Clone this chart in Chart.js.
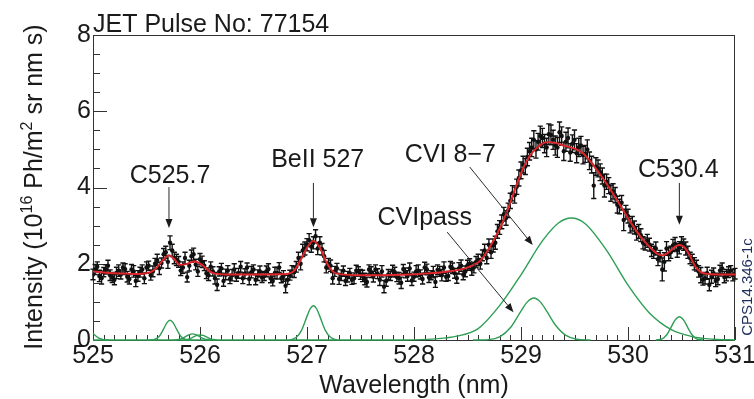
<!DOCTYPE html>
<html>
<head>
<meta charset="utf-8">
<script src="https://cdn.jsdelivr.net/npm/chart.js@4.4.0/dist/chart.umd.min.js"></script>
<style>
  html, body { margin: 0; padding: 0; background: #fff; }
</style>
</head>
<body>
<canvas id="spectrum" width="754" height="399"></canvas>
<script>
// JET pulse 77154 - CVI 8-7 region, measured spectrum + fit components

const FONT = "'Liberation Sans', Arial, sans-serif";

// --- measured points (nm, 1e16 Ph/m2 sr nm s) ---
const wavelength = [
  525.00, 525.04, 525.08, 525.12, 525.16, 525.20, 525.24, 525.28, 525.32, 525.36,
  525.40, 525.44, 525.48, 525.52, 525.56, 525.60, 525.64, 525.68, 525.72, 525.76,
  525.80, 525.84, 525.88, 525.92, 525.96, 526.00, 526.04, 526.08, 526.12, 526.16,
  526.20, 526.24, 526.28, 526.32, 526.36, 526.40, 526.44, 526.48, 526.52, 526.56,
  526.60, 526.64, 526.68, 526.72, 526.76, 526.80, 526.84, 526.88, 526.92, 526.96,
  527.00, 527.04, 527.08, 527.12, 527.16, 527.20, 527.24, 527.28, 527.32, 527.36,
  527.40, 527.44, 527.48, 527.52, 527.56, 527.60, 527.64, 527.68, 527.72, 527.76,
  527.80, 527.84, 527.88, 527.92, 527.96, 528.00, 528.04, 528.08, 528.12, 528.16,
  528.20, 528.24, 528.28, 528.32, 528.36, 528.40, 528.44, 528.48, 528.52, 528.56,
  528.60, 528.64, 528.68, 528.72, 528.76, 528.80, 528.84, 528.88, 528.92, 528.96,
  529.00, 529.04, 529.08, 529.12, 529.16, 529.20, 529.24, 529.28, 529.32, 529.36,
  529.40, 529.44, 529.48, 529.52, 529.56, 529.60, 529.64, 529.68, 529.72, 529.76,
  529.80, 529.84, 529.88, 529.92, 529.96, 530.00, 530.04, 530.08, 530.12, 530.16,
  530.20, 530.24, 530.28, 530.32, 530.36, 530.40, 530.44, 530.48, 530.52, 530.56,
  530.60, 530.64, 530.68, 530.72, 530.76, 530.80, 530.84, 530.88, 530.92, 530.96,
  531.00
];
const intensity = [
  1.72, 1.92, 1.62, 1.85, 1.70, 1.58, 1.82, 1.90, 1.66, 1.85,
  1.55, 1.78, 1.62, 1.95, 1.80, 2.10, 2.02, 2.30, 2.55, 2.15,
  2.05, 1.90, 1.65, 2.20, 1.98, 2.12, 1.95, 1.70, 1.80, 1.45,
  1.88, 1.72, 1.60, 1.85, 1.75, 1.62, 1.90, 1.78, 1.58, 1.80,
  1.68, 1.86, 1.55, 1.75, 1.62, 1.42, 1.70, 1.78, 2.15, 2.35,
  2.50, 2.45, 2.72, 2.55, 2.20, 2.00, 1.62, 1.88, 1.70, 1.55,
  1.75, 1.62, 1.80, 1.68, 1.52, 1.78, 1.85, 1.58, 1.40, 1.72,
  1.82, 1.65, 1.50, 1.76, 1.88, 1.66, 1.82, 1.60, 1.85, 1.70,
  1.52, 1.80, 1.90, 1.68, 1.88, 1.62, 1.95, 1.80, 2.00, 1.90,
  2.10, 2.22, 2.15, 2.30, 2.55, 2.95, 3.30, 3.40, 3.85, 4.02,
  4.45, 4.55, 4.95, 5.25, 5.20, 5.30, 5.05, 5.38, 5.10, 5.45,
  4.95, 5.30, 5.15, 4.90, 5.10, 4.88, 4.70, 4.05, 4.50, 4.30,
  4.15, 3.85, 3.80, 3.50, 3.15, 3.25, 3.05, 2.80, 2.75, 2.52,
  2.50, 2.30, 2.12, 1.85, 2.40, 2.30, 2.52, 2.42, 2.50, 2.30,
  2.10, 1.95, 1.70, 1.62, 1.45, 1.75, 1.60, 1.88, 1.70, 1.82,
  1.74
];
const errBar = [
  .14, .13, .15, .12, .14, .13, .15, .12, .14, .13,
  .15, .13, .14, .12, .14, .15, .13, .16, .18, .15,
  .14, .15, .13, .16, .14, .15, .13, .14, .12, .15,
  .13, .14, .12, .15, .13, .14, .12, .15, .13, .14,
  .12, .14, .13, .15, .12, .18, .13, .14, .15, .16,
  .16, .15, .17, .16, .15, .14, .15, .13, .14, .12,
  .13, .14, .12, .15, .13, .14, .12, .15, .16, .13,
  .14, .12, .15, .13, .14, .12, .15, .13, .14, .12,
  .14, .13, .15, .12, .14, .13, .15, .14, .13, .14,
  .15, .14, .15, .16, .17, .18, .18, .19, .20, .20,
  .22, .21, .23, .24, .22, .25, .24, .26, .25, .27,
  .24, .26, .23, .25, .24, .22, .23, .34, .22, .21,
  .20, .21, .20, .19, .28, .18, .19, .18, .17, .16,
  .17, .16, .17, .30, .18, .16, .17, .16, .15, .16,
  .15, .14, .20, .15, .16, .14, .15, .14, .15, .13,
  .14
];
// in-between channels
const wavelengthB = [
  525.02, 525.06, 525.10, 525.14, 525.18, 525.22, 525.26, 525.30, 525.34, 525.38,
  525.42, 525.46, 525.50, 525.54, 525.58, 525.62, 525.66, 525.70, 525.74, 525.78,
  525.82, 525.86, 525.90, 525.94, 525.98, 526.02, 526.06, 526.10, 526.14, 526.18,
  526.22, 526.26, 526.30, 526.34, 526.38, 526.42, 526.46, 526.50, 526.54, 526.58,
  526.62, 526.66, 526.70, 526.74, 526.78, 526.82, 526.86, 526.90, 526.94, 526.98,
  527.02, 527.06, 527.10, 527.14, 527.18, 527.22, 527.26, 527.30, 527.34, 527.38,
  527.42, 527.46, 527.50, 527.54, 527.58, 527.62, 527.66, 527.70, 527.74, 527.78,
  527.82, 527.86, 527.90, 527.94, 527.98, 528.02, 528.06, 528.10, 528.14, 528.18,
  528.22, 528.26, 528.30, 528.34, 528.38, 528.42, 528.46, 528.50, 528.54, 528.58,
  528.62, 528.66, 528.70, 528.74, 528.78, 528.82, 528.86, 528.90, 528.94, 528.98,
  529.02, 529.06, 529.10, 529.14, 529.18, 529.22, 529.26, 529.30, 529.34, 529.38,
  529.42, 529.46, 529.50, 529.54, 529.58, 529.62, 529.66, 529.70, 529.74, 529.78,
  529.82, 529.86, 529.90, 529.94, 529.98, 530.02, 530.06, 530.10, 530.14, 530.18,
  530.22, 530.26, 530.30, 530.34, 530.38, 530.42, 530.46, 530.50, 530.54, 530.58,
  530.62, 530.66, 530.70, 530.74, 530.78, 530.82, 530.86, 530.90, 530.94, 530.98
];
const intensityB = [
  1.85, 1.68, 1.78, 1.95, 1.64, 1.76, 1.72, 1.86, 1.60, 1.80,
  1.68, 1.85, 1.90, 1.70, 2.00, 1.88, 2.25, 2.05, 2.35, 2.10,
  1.82, 2.15, 1.95, 2.25, 1.80, 2.05, 1.75, 1.92, 1.62, 1.80,
  1.55, 1.82, 1.70, 1.66, 1.92, 1.74, 1.60, 1.85, 1.70, 1.64,
  1.80, 1.62, 1.76, 1.90, 1.68, 1.58, 1.80, 1.92, 2.00, 2.40,
  2.62, 2.55, 2.40, 2.38, 1.90, 1.95, 1.80, 1.60, 1.82, 1.66,
  1.58, 1.82, 1.72, 1.60, 1.85, 1.66, 1.74, 1.80, 1.55, 1.68,
  1.78, 1.62, 1.86, 1.68, 1.56, 1.80, 1.72, 1.90, 1.64, 1.78,
  1.84, 1.70, 1.66, 1.92, 1.75, 1.88, 1.72, 1.96, 1.85, 2.05,
  2.00, 2.35, 2.50, 2.48, 2.85, 3.10, 3.20, 3.65, 3.80, 4.25,
  4.60, 4.80, 5.05, 5.00, 5.35, 5.15, 5.40, 5.25, 5.05, 5.35,
  5.20, 4.92, 5.25, 5.05, 4.85, 5.00, 4.60, 4.55, 4.40, 4.05,
  4.05, 3.90, 3.55, 3.60, 3.35, 3.00, 2.95, 2.85, 2.55, 2.60,
  2.35, 2.40, 2.20, 2.05, 2.25, 2.48, 2.35, 2.55, 2.40, 2.15,
  2.00, 1.80, 1.58, 1.75, 1.66, 1.55, 1.82, 1.65, 1.78, 1.70
];
const errBarB = [
  .13, .15, .12, .14, .13, .15, .12, .14, .13, .15,
  .14, .12, .15, .13, .14, .16, .15, .17, .16, .15,
  .13, .15, .14, .16, .13, .15, .14, .13, .15, .12,
  .14, .13, .15, .12, .14, .13, .15, .12, .14, .13,
  .14, .12, .15, .13, .14, .12, .15, .14, .16, .17,
  .17, .16, .16, .15, .14, .15, .13, .14, .12, .14,
  .12, .14, .13, .15, .12, .14, .13, .15, .14, .12,
  .13, .15, .12, .14, .13, .15, .12, .14, .13, .15,
  .13, .15, .12, .14, .13, .15, .14, .13, .15, .14,
  .14, .16, .15, .17, .18, .18, .19, .20, .21, .21,
  .22, .23, .24, .23, .26, .24, .27, .25, .26, .24,
  .25, .23, .26, .24, .23, .25, .22, .23, .22, .30,
  .21, .20, .22, .19, .18, .19, .17, .18, .16, .17,
  .16, .17, .15, .24, .17, .16, .18, .16, .17, .15,
  .16, .15, .14, .16, .17, .15, .14, .15, .14, .15
];

// --- total fit (red) ---
const fitX = [525.00, 525.10, 525.20, 525.30, 525.40, 525.50, 525.58, 525.64, 525.71, 525.76,
  525.81, 525.87, 525.95, 526.02, 526.08, 526.14, 526.25, 526.40, 526.60, 526.80,
  526.88, 526.94, 527.00, 527.06, 527.12, 527.18, 527.24, 527.32, 527.50, 527.70,
  527.90, 528.10, 528.30, 528.45, 528.55, 528.62, 528.70, 528.77, 528.83, 528.90,
  528.96, 529.02, 529.08, 529.14, 529.20, 529.25, 529.32, 529.40, 529.50, 529.58,
  529.65, 529.72, 529.80, 529.88, 529.96, 530.04, 530.12, 530.20, 530.27, 530.32,
  530.38, 530.44, 530.48, 530.53, 530.58, 530.63, 530.68, 530.75, 530.85, 531.00];
const fitY = [1.80, 1.77, 1.75, 1.74, 1.73, 1.75, 1.85, 2.05, 2.22, 2.12,
  1.97, 1.99, 2.06, 1.97, 1.82, 1.74, 1.72, 1.72, 1.72, 1.73,
  1.82, 2.10, 2.42, 2.60, 2.42, 2.05, 1.80, 1.72, 1.70, 1.70,
  1.71, 1.74, 1.79, 1.86, 1.96, 2.08, 2.40, 2.75, 3.10, 3.60,
  4.08, 4.50, 4.82, 5.02, 5.15, 5.19, 5.17, 5.10, 5.02, 4.90,
  4.68, 4.42, 4.10, 3.75, 3.38, 3.02, 2.70, 2.45, 2.27, 2.22,
  2.30, 2.45, 2.49, 2.42, 2.20, 1.92, 1.78, 1.73, 1.72, 1.72];

// --- fitted line components (green) ---
const edgeX = [525.00, 525.03, 525.06, 525.10, 525.15];
const edgeY = [0.17, 0.10, 0.04, 0.01, 0];
const c5257X = [525.52, 525.58, 525.62, 525.66, 525.69, 525.72, 525.75, 525.78, 525.82, 525.86, 525.92];
const c5257Y = [0, 0.02, 0.10, 0.29, 0.45, 0.52, 0.45, 0.29, 0.10, 0.02, 0];
const c5259X = [525.76, 525.82, 525.86, 525.90, 525.93, 525.96, 526.00, 526.04, 526.10];
const c5259Y = [0, 0.03, 0.08, 0.14, 0.16, 0.14, 0.08, 0.03, 0];
const c5260X = [525.84, 525.90, 525.94, 525.97, 526.00, 526.03, 526.06, 526.10, 526.16];
const c5260Y = [0, 0.03, 0.08, 0.12, 0.13, 0.12, 0.08, 0.03, 0];
const be527X = [526.84, 526.90, 526.95, 527.00, 527.03, 527.06, 527.09, 527.12, 527.17, 527.22, 527.28];
const be527Y = [0, 0.07, 0.26, 0.62, 0.82, 0.90, 0.82, 0.62, 0.26, 0.07, 0];
const cviPassX = [528.55, 528.70, 528.80, 528.90, 529.00, 529.06, 529.12, 529.18, 529.24, 529.32, 529.42, 529.52, 529.65];
const cviPassY = [0, 0.01, 0.08, 0.32, 0.76, 1.00, 1.10, 1.00, 0.76, 0.40, 0.12, 0.02, 0];
const cvi87X = [525.00, 527.90, 528.20, 528.40, 528.60, 528.80, 529.00, 529.20, 529.35, 529.47,
  529.60, 529.80, 530.00, 530.20, 530.40, 530.60, 530.80, 531.00];
const cvi87Y = [0, 0, 0.03, 0.10, 0.30, 0.90, 1.71, 2.60, 3.07, 3.20,
  3.05, 2.35, 1.44, 0.71, 0.28, 0.09, 0.02, 0];
const c5304X = [530.26, 530.32, 530.36, 530.40, 530.44, 530.48, 530.52, 530.56, 530.60, 530.64, 530.70];
const c5304Y = [0, 0.03, 0.13, 0.32, 0.52, 0.61, 0.52, 0.32, 0.13, 0.03, 0];

// --- labels with arrows, in data units ---
const lineLabels = [
  { text: "C525.7",   x: 525.72, y: 4.12, from: [525.71, 4.01], to: [525.71, 2.94] },
  { text: "BeII 527", x: 527.10, y: 4.54, from: [527.06, 4.12], to: [527.06, 2.96] },
  { text: "CVI 8\u22127", x: 528.34, y: 4.67, from: [528.52, 4.54], to: [529.11, 2.49] },
  { text: "CVIpass",  x: 528.10, y: 3.02, from: [528.31, 2.83], to: [528.93, 0.73] },
  { text: "C530.4",   x: 530.47, y: 4.28, from: [530.48, 4.12], to: [530.48, 3.02] }
];

const xy = (xs, ys) => xs.map((v, i) => ({ x: v, y: ys[i] }));

function greenSet(xs, ys) {
  return {
    data: xy(xs, ys), showLine: true, borderColor: "#2f9e55", borderWidth: 1.4,
    pointRadius: 0, cubicInterpolationMode: "monotone", order: 3, clip: 4
  };
}

function pointSet(xs, ys) {
  return {
    data: xy(xs, ys), showLine: false, pointRadius: 2.2,
    pointStyle: "circle", backgroundColor: "#111", borderWidth: 0, order: 1
  };
}

// error bars, drawn right after each set of measured points
const barSets = { 1: [wavelength, intensity, errBar], 2: [wavelengthB, intensityB, errBarB] };
const errorBars = {
  id: "errorBars",
  afterDatasetDraw(chart, args) {
    const set = barSets[args.index];
    if (!set) return;
    const [ws, vs, es] = set;
    const { ctx, scales: { x, y } } = chart;
    ctx.save();
    ctx.strokeStyle = "#111";
    ctx.lineWidth = 1.4;
    ctx.beginPath();
    ws.forEach((w, i) => {
      const px = x.getPixelForValue(w);
      const top = y.getPixelForValue(vs[i] + es[i]);
      const bot = y.getPixelForValue(vs[i] - es[i]);
      ctx.moveTo(px, top); ctx.lineTo(px, bot);
      ctx.moveTo(px - 2.6, top); ctx.lineTo(px + 2.6, top);
      ctx.moveTo(px - 2.6, bot); ctx.lineTo(px + 2.6, bot);
    });
    ctx.stroke();
    ctx.restore();
  }
};

// frame + inward ticks
const frame = {
  id: "frame",
  beforeDatasetsDraw(chart) {
    const { ctx, chartArea: a, scales: { x, y } } = chart;
    ctx.save();
    ctx.strokeStyle = "#333";
    ctx.lineWidth = 1;
    ctx.strokeRect(a.left + 0.5, a.top + 0.5, a.right - a.left - 1, a.bottom - a.top);
    ctx.beginPath();
    for (let i = 0; i <= 60; i++) {
      const px = Math.round(x.getPixelForValue(525 + i * 0.1)) + 0.5;
      const len = i % 10 === 0 ? 13 : 5;
      ctx.moveTo(px, a.bottom); ctx.lineTo(px, a.bottom - len);
    }
    for (let i = 0; i <= 16; i++) {
      const py = Math.round(y.getPixelForValue(i * 0.5)) + 0.5;
      const len = i % 4 === 0 ? 14 : 7;
      ctx.moveTo(a.left, py); ctx.lineTo(a.left + len, py);
    }
    ctx.stroke();
    ctx.restore();
  }
};

function arrow(ctx, x1, y1, x2, y2) {
  const ang = Math.atan2(y2 - y1, x2 - x1);
  const hl = 9, hw = 3.5;
  ctx.beginPath();
  ctx.moveTo(x1, y1);
  ctx.lineTo(x2 - hl * Math.cos(ang), y2 - hl * Math.sin(ang));
  ctx.stroke();
  ctx.beginPath();
  ctx.moveTo(x2, y2);
  ctx.lineTo(x2 - hl * Math.cos(ang) + hw * Math.sin(ang), y2 - hl * Math.sin(ang) - hw * Math.cos(ang));
  ctx.lineTo(x2 - hl * Math.cos(ang) - hw * Math.sin(ang), y2 - hl * Math.sin(ang) + hw * Math.cos(ang));
  ctx.closePath();
  ctx.fill();
}

const texts = {
  id: "texts",
  afterDraw(chart) {
    const { ctx, chartArea: a, scales: { x, y } } = chart;
    ctx.save();
    ctx.fillStyle = "#1a1a1a";
    ctx.strokeStyle = "#2a2a2a";
    ctx.lineWidth = 1;

    // title
    ctx.font = "25px " + FONT;
    ctx.textAlign = "left";
    ctx.textBaseline = "alphabetic";
    ctx.fillText("JET Pulse No: 77154", a.left, a.top - 3);

    // line labels + arrows
    ctx.textAlign = "center";
    lineLabels.forEach(l => {
      ctx.fillText(l.text, x.getPixelForValue(l.x), y.getPixelForValue(l.y));
      arrow(ctx, x.getPixelForValue(l.from[0]), y.getPixelForValue(l.from[1]),
        x.getPixelForValue(l.to[0]), y.getPixelForValue(l.to[1]));
    });

    // x title
    ctx.fillText("Wavelength (nm)", (a.left + a.right) / 2, 393);

    // y title with superscripts
    const parts = [["Intensity (10", 0], ["16", 1], [" Ph/m", 0], ["2", 1], [" sr nm s)", 0]];
    const setF = s => { ctx.font = (s ? "16px " : "25px ") + FONT; };
    let total = 0;
    parts.forEach(p => { setF(p[1]); total += ctx.measureText(p[0]).width; });
    ctx.save();
    ctx.translate(42, 187);
    ctx.rotate(-Math.PI / 2);
    ctx.textAlign = "left";
    let cx = -total / 2;
    parts.forEach(p => {
      setF(p[1]);
      ctx.fillText(p[0], cx, p[1] ? -10 : 0);
      cx += ctx.measureText(p[0]).width;
    });
    ctx.restore();

    // figure id
    ctx.save();
    ctx.fillStyle = "#1d2d5c";
    ctx.font = "15px " + FONT;
    ctx.translate(752, 287);
    ctx.rotate(-Math.PI / 2);
    ctx.textAlign = "center";
    ctx.fillText("CPS14.346-1c", 0, 0);
    ctx.restore();

    ctx.restore();
  }
};

const ctx = document.getElementById("spectrum").getContext("2d");
new Chart(ctx, {
  type: "line",
  data: {
    datasets: [
      {
        data: xy(fitX, fitY), showLine: true, borderColor: "#e0262a", borderWidth: 1.9,
        pointRadius: 0, cubicInterpolationMode: "monotone", order: 0
      },
      pointSet(wavelength, intensity),
      pointSet(wavelengthB, intensityB),
      greenSet(cvi87X, cvi87Y),
      greenSet(edgeX, edgeY),
      greenSet(c5257X, c5257Y),
      greenSet(c5259X, c5259Y),
      greenSet(c5260X, c5260Y),
      greenSet(be527X, be527Y),
      greenSet(cviPassX, cviPassY),
      greenSet(c5304X, c5304Y)
    ]
  },
  options: {
    responsive: false,
    animation: false,
    layout: { padding: { top: 35, right: 19, left: 0, bottom: 0 } },
    plugins: { legend: { display: false }, tooltip: { enabled: false } },
    scales: {
      x: {
        type: "linear", min: 525, max: 531,
        grid: { display: false, drawTicks: false },
        border: { display: false },
        ticks: { stepSize: 1, padding: 1, color: "#1a1a1a", font: { family: FONT, size: 25 }, maxRotation: 0, autoSkip: false },
        afterFit(s) { s.height = 59; s.paddingLeft = 0; s.paddingRight = 0; }
      },
      y: {
        type: "linear", min: 0, max: 8,
        grid: { display: false, drawTicks: false },
        border: { display: false },
        ticks: { stepSize: 2, padding: 2, color: "#1a1a1a", font: { family: FONT, size: 25 } },
        afterFit(s) { s.width = 93; s.paddingTop = 0; s.paddingBottom = 0; }
      }
    }
  },
  plugins: [frame, errorBars, texts]
});
</script>
</body>
</html>
